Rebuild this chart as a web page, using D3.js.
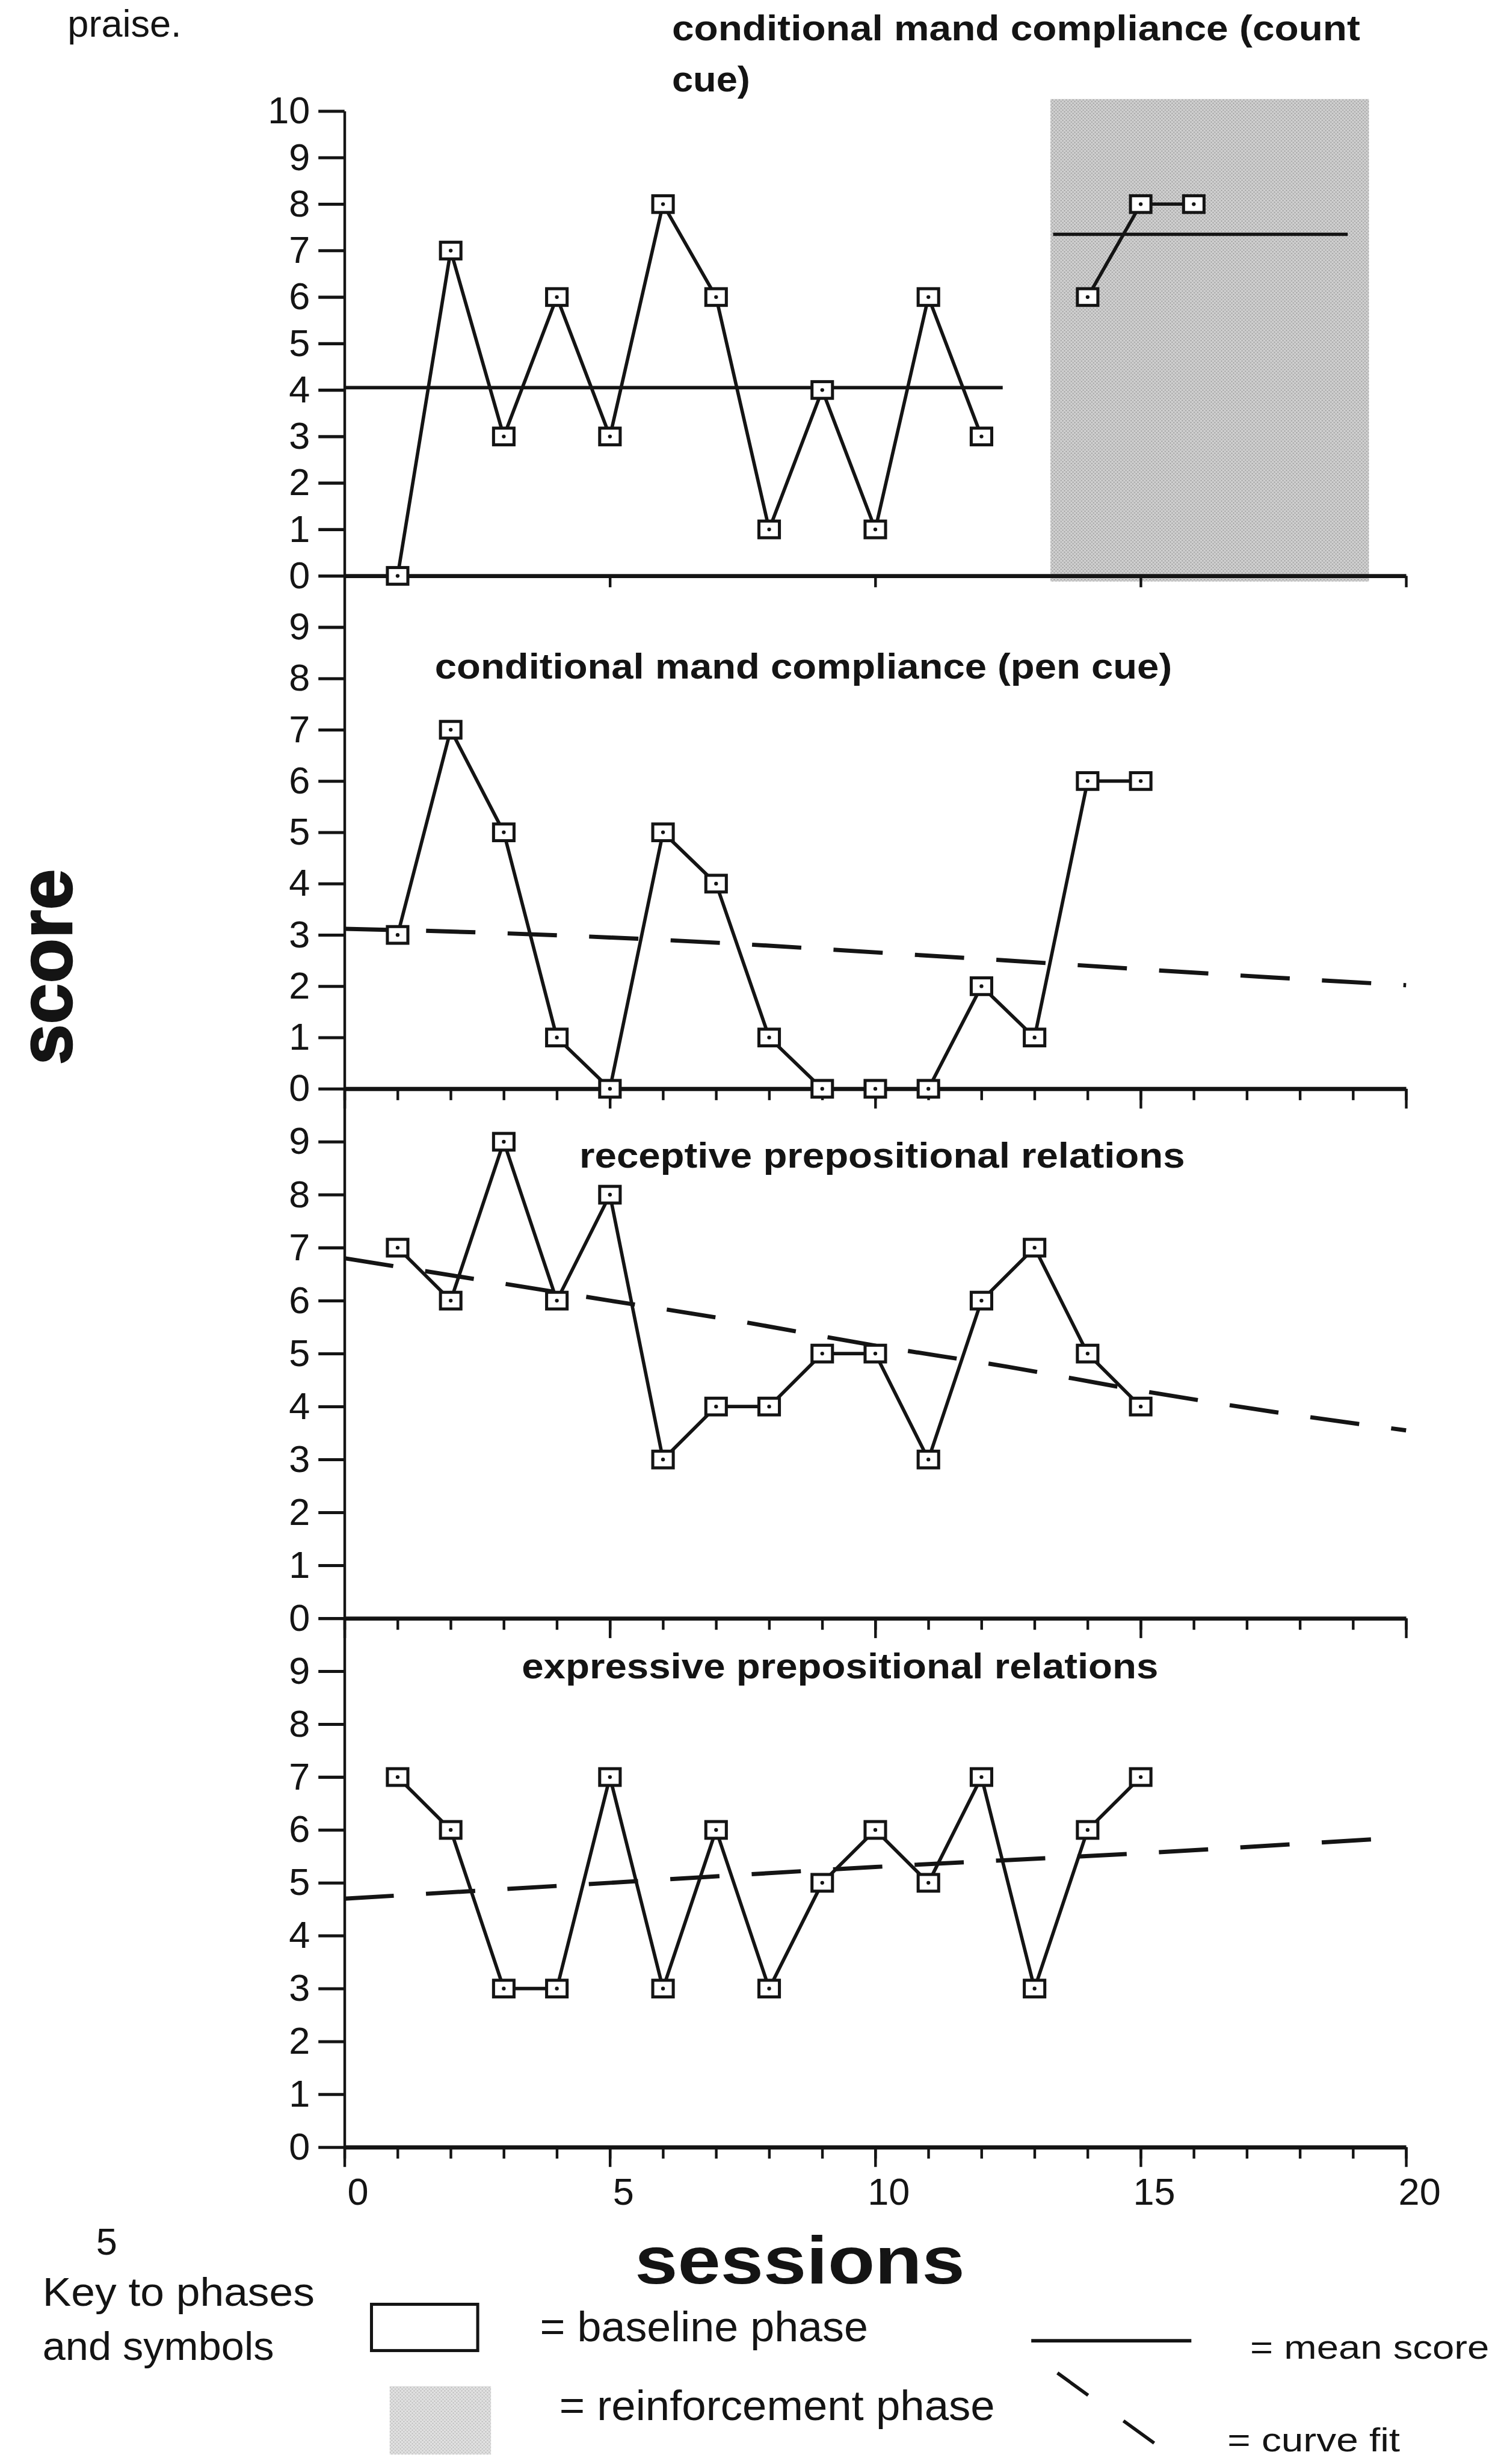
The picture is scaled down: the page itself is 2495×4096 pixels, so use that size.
<!DOCTYPE html>
<html>
<head>
<meta charset="utf-8">
<script src="https://cdn.jsdelivr.net/npm/d3@7/dist/d3.min.js"></script>
<style>
  body { margin: 0; background: #fff; }
  text { font-family: "Liberation Sans", Arial, Helvetica, sans-serif; fill: #141414; }
</style>
</head>
<body>
<svg id="chart"></svg>
<script>
// ==========================================================================
// DATA
// ==========================================================================

var sessionTicks = [0, 5, 10, 15, 20]
var sessionMinorTicks = [0,1,2,3,4,5,6,7,8,9,10,11,12,13,14,15,16,17,18,19,20]
var scoreTicksTop = [0,1,2,3,4,5,6,7,8,9,10]
var scoreTicks = [0,1,2,3,4,5,6,7,8,9]

var panelTitles = [
  ["conditional mand compliance (count", "cue)"],
  ["conditional mand compliance (pen cue)"],
  ["receptive prepositional relations"],
  ["expressive prepositional relations"]
]

// panel 1: count cue, baseline (sessions 1-12) and reinforcement (14-16)
var countCueSessions = [1,2,3,4,5,6,7,8,9,10,11,12]
var countCueScores   = [0,7,3,6,3,8,6,1,4,1,6,3]
var countCueReinfSessions = [14,15,16]
var countCueReinfScores   = [6,8,8]
var countCueMeans = [
  {from: 0,     to: 12.4, value: 4.05},
  {from: 13.35, to: 18.9, value: 7.35}
]
var reinforcementPhase = {from: 13.3, to: 19.3, top: 10.26, bottom: -0.12}

// panels 2-4: sessions 1-15
var sessions15 = [1,2,3,4,5,6,7,8,9,10,11,12,13,14,15]
var penCueScores      = [3,7,5,1,0,5,4,1,0,0,0,2,1,6,6]
var receptiveScores   = [7,6,9,6,8,3,4,4,5,5,3,6,7,5,4]
var expressiveScores  = [7,6,3,3,7,3,6,3,5,6,5,7,3,6,7]

// dashed curve fits, read at a few sessions
var fitSessions = [0, 2.5, 5, 7.5, 10, 12.5, 15, 17.5, 20]
var penCueFit     = [3.12, 3.05, 2.95, 2.82, 2.66, 2.50, 2.33, 2.17, 2.02]
var receptiveFit  = [6.80, 6.40, 6.00, 5.60, 5.15, 4.75, 4.30, 3.90, 3.55]
var expressiveFitSessions = [0, 5, 10, 15, 19.5]
var expressiveFit = [4.70, 5.00, 5.30, 5.56, 5.83]

// ==========================================================================
// D3 MAIN
// ==========================================================================

var W = 3956, H = 6495
var ink = "#141414"

var svg = d3.select("#chart")
  .attr("width", 2495).attr("height", 4096)
  .attr("viewBox", "0 0 " + W + " " + H)

var defs = svg.append("defs")

function halftone(id, bg, dot) {
  var p = defs.append("pattern").attr("id", id)
    .attr("patternUnits", "userSpaceOnUse").attr("width", 9).attr("height", 9)
  p.append("rect").attr("width", 9).attr("height", 9).attr("fill", bg)
  p.append("circle").attr("cx", 2.25).attr("cy", 2.25).attr("r", 1.8).attr("fill", dot)
  p.append("circle").attr("cx", 6.75).attr("cy", 6.75).attr("r", 1.8).attr("fill", dot)
}
halftone("shade", "#d2d2d2", "#9c9c9c")
halftone("shadeLight", "#e2e2e2", "#bababa")

var x = d3.scaleLinear().domain([0, 20]).range([908, 3706])

var panels = [
  {top: 293,  bottom: 1518, titleX: 1771, titleY: 107,  titleLen: [1814, 206]},
  {top: 1518, bottom: 2870, titleX: 1146, titleY: 1788, titleLen: [1943]},
  {top: 2870, bottom: 4266, titleX: 1527, titleY: 3078, titleLen: [1596]},
  {top: 4266, bottom: 5660, titleX: 1375, titleY: 4424, titleLen: [1678]}
]
panels.forEach(function(p) {
  p.y = d3.scaleLinear().domain([0, 10]).range([p.bottom, p.top])
})

// Reinforcement shading (panel 1)
var p1 = panels[0]
svg.append("rect")
  .attr("x", x(reinforcementPhase.from))
  .attr("y", p1.y(reinforcementPhase.top))
  .attr("width", x(reinforcementPhase.to) - x(reinforcementPhase.from))
  .attr("height", p1.y(reinforcementPhase.bottom) - p1.y(reinforcementPhase.top))
  .attr("fill", "url(#shade)")

// Axes
panels.forEach(function(p, i) {
  var yAxis = d3.axisLeft(p.y)
    .tickValues(i == 0 ? scoreTicksTop : scoreTicks)
    .tickSize(69).tickSizeOuter(0).tickPadding(22)
  var gy = svg.append("g").attr("transform", "translate(" + x(0) + ",0)").call(yAxis)
  gy.select(".domain").attr("stroke", ink).attr("stroke-width", 7)
  gy.selectAll(".tick line").attr("stroke", ink).attr("stroke-width", 8)
  gy.selectAll(".tick text")
    .attr("font-size", 100).attr("fill", ink)
    .attr("font-family", "Liberation Sans, Arial, sans-serif")

  var gx = svg.append("g").attr("transform", "translate(0," + p.bottom + ")")
  if (i == 0) {
    gx.call(d3.axisBottom(x).tickValues(sessionTicks.slice(1)).tickSize(30).tickSizeOuter(0).tickFormat(""))
  } else {
    gx.call(d3.axisBottom(x).tickValues(sessionMinorTicks).tickSize(30).tickSizeOuter(0).tickFormat(""))
    var major = d3.axisBottom(x).tickValues(sessionTicks).tickSize(52).tickSizeOuter(0).tickPadding(28)
    if (i < panels.length - 1) major.tickFormat("")
    var gm = svg.append("g").attr("transform", "translate(0," + p.bottom + ")").call(major)
    gm.select(".domain").remove()
    gm.selectAll(".tick line").attr("stroke", ink).attr("stroke-width", 7)
    gm.selectAll(".tick text")
      .attr("font-size", 100).attr("fill", ink).attr("dx", 35)
      .attr("font-family", "Liberation Sans, Arial, sans-serif")
  }
  gx.select(".domain").attr("stroke", ink).attr("stroke-width", 11)
  gx.selectAll(".tick line").attr("stroke", ink).attr("stroke-width", 7)
})

// Titles
panels.forEach(function(p, i) {
  panelTitles[i].forEach(function(line, j) {
    svg.append("text")
      .attr("x", p.titleX).attr("y", p.titleY + j * 134)
      .attr("font-size", 95).attr("font-weight", "bold")
      .attr("textLength", p.titleLen[j]).attr("lengthAdjust", "spacingAndGlyphs")
      .text(line)
  })
})

// Mean lines (panel 1)
svg.selectAll(".mean").data(countCueMeans).enter().append("line")
  .attr("x1", d => x(d.from)).attr("x2", d => x(d.to))
  .attr("y1", d => p1.y(d.value)).attr("y2", d => p1.y(d.value))
  .attr("stroke", ink).attr("stroke-width", 9)

// Curve fits (panels 2-4)
var fits = [
  {panel: panels[1], s: fitSessions, v: penCueFit},
  {panel: panels[2], s: fitSessions, v: receptiveFit},
  {panel: panels[3], s: expressiveFitSessions, v: expressiveFit}
]
fits.forEach(function(f) {
  var pts = f.s.map((s, k) => [s, f.v[k]])
  svg.append("path")
    .attr("d", d3.line().curve(d3.curveMonotoneX)
      .x(d => x(d[0])).y(d => f.panel.y(d[1]))(pts))
    .attr("fill", "none").attr("stroke", ink)
    .attr("stroke-width", 11).attr("stroke-dasharray", "130,85")
})

// Data series
var series = [
  {panel: panels[0], s: countCueSessions, v: countCueScores},
  {panel: panels[0], s: countCueReinfSessions, v: countCueReinfScores},
  {panel: panels[1], s: sessions15, v: penCueScores},
  {panel: panels[2], s: sessions15, v: receptiveScores},
  {panel: panels[3], s: sessions15, v: expressiveScores}
]
series.forEach(function(sr) {
  var pts = sr.s.map((s, k) => [s, sr.v[k]])
  var yS = sr.panel.y
  svg.append("path")
    .attr("d", d3.line().x(d => x(d[0])).y(d => yS(d[1]))(pts))
    .attr("fill", "none").attr("stroke", ink).attr("stroke-width", 9)
    .attr("stroke-linejoin", "round")
  var g = svg.append("g")
  g.selectAll("rect").data(pts).enter().append("rect")
    .attr("x", d => x(d[0]) - 27).attr("y", d => yS(d[1]) - 22)
    .attr("width", 54).attr("height", 44)
    .attr("fill", "#fff").attr("stroke", ink).attr("stroke-width", 8)
  g.selectAll("circle").data(pts).enter().append("circle")
    .attr("cx", d => x(d[0])).attr("cy", d => yS(d[1]))
    .attr("r", 5).attr("fill", ink)
})

// Axis titles
svg.append("text")
  .attr("transform", "translate(188,2549) rotate(-90)")
  .attr("text-anchor", "middle").attr("font-size", 196).attr("font-weight", "bold")
  .attr("stroke", ink).attr("stroke-width", 4)
  .attr("textLength", 516).attr("lengthAdjust", "spacingAndGlyphs")
  .text("score")

svg.append("text")
  .attr("x", 2108).attr("y", 6020)
  .attr("text-anchor", "middle").attr("font-size", 175).attr("font-weight", "bold")
  .attr("textLength", 870).attr("lengthAdjust", "spacingAndGlyphs")
  .text("sessions")

// Page fragments round the figure
svg.append("text").attr("x", 178).attr("y", 96).attr("font-size", 100).text("praise.")
svg.append("text").attr("x", 281).attr("y", 5943).attr("text-anchor", "middle").attr("font-size", 100).text("5")

// ==========================================================================
// KEY
// ==========================================================================

var keyText = [
  {t: "Key to phases", x: 112, y: 6078, size: 105, len: 717},
  {t: "and symbols", x: 112, y: 6221, size: 105, len: 610},
  {t: "= baseline phase", x: 1423, y: 6172, size: 112, len: 865},
  {t: "= reinforcement phase", x: 1474, y: 6380, size: 112, len: 1148},
  {t: "= mean score", x: 3295, y: 6217, size: 88, len: 630},
  {t: "= curve fit", x: 3235, y: 6462, size: 88, len: 455}
]
svg.selectAll(".key").data(keyText).enter().append("text")
  .attr("x", d => d.x).attr("y", d => d.y).attr("font-size", d => d.size)
  .attr("textLength", d => d.len).attr("lengthAdjust", "spacingAndGlyphs")
  .text(d => d.t)

svg.append("rect").attr("x", 979).attr("y", 6074).attr("width", 280).attr("height", 122)
  .attr("fill", "none").attr("stroke", ink).attr("stroke-width", 8)
svg.append("rect").attr("x", 1027).attr("y", 6290).attr("width", 267).attr("height", 180)
  .attr("fill", "url(#shadeLight)")
svg.append("line").attr("x1", 2718).attr("x2", 3140).attr("y1", 6170).attr("y2", 6170)
  .attr("stroke", ink).attr("stroke-width", 9)
svg.append("line").attr("x1", 2787).attr("y1", 6255).attr("x2", 3042).attr("y2", 6440)
  .attr("stroke", ink).attr("stroke-width", 9).attr("stroke-dasharray", "100,115")
</script>
</body>
</html>
